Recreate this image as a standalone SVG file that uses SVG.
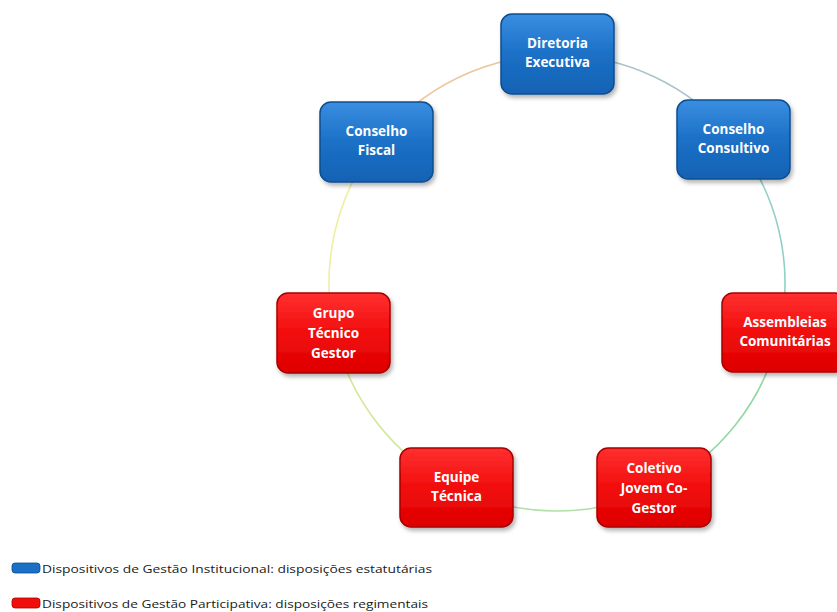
<svg xmlns="http://www.w3.org/2000/svg" width="837" height="612" viewBox="0 0 837 612">
<defs>
<linearGradient id="gb" x1="0" y1="0" x2="0" y2="1">
<stop offset="0" stop-color="#3a8ee0"/>
<stop offset="0.5" stop-color="#1b70c6"/>
<stop offset="1" stop-color="#1462b4"/>
</linearGradient>
<linearGradient id="gr" x1="0" y1="0" x2="0" y2="1">
<stop offset="0" stop-color="#ff3030"/>
<stop offset="0.5" stop-color="#f20d0d"/>
<stop offset="1" stop-color="#dd0000"/>
</linearGradient>
<filter id="sh" x="-20%" y="-20%" width="140%" height="150%">
<feDropShadow dx="2" dy="3" stdDeviation="2" flood-color="#000" flood-opacity="0.3"/>
</filter>
</defs>
<style>
.b{fill:url(#gb);stroke:#0c4d8f;stroke-width:1.5;filter:url(#sh)}
.r{fill:url(#gr);stroke:#a80000;stroke-width:1.5;filter:url(#sh)}
.t{font-family:"Open Sans","Liberation Sans",sans-serif;font-weight:bold;font-size:13.5px;fill:#fff;text-anchor:middle}
.lg{font-family:"Open Sans","Liberation Sans",sans-serif;font-size:11.5px;fill:#1a1a1a}
.c{fill:none;stroke-width:1.6}
</style>
<rect width="837" height="612" fill="#fff"/>
<g id="connectors">
<path class="c" stroke="#a9c4cc" d="M557,55 A228,228 0 0 1 733.5,138.6"/>
<path class="c" stroke="#8fd0c8" d="M733.5,138.6 A228,228 0 0 1 779.5,332.7"/>
<path class="c" stroke="#93d8a2" d="M779.5,332.7 A228,228 0 0 1 654.8,489"/>
<path class="c" stroke="#b0e0a8" d="M654.8,489 A228,228 0 0 1 456,487.4"/>
<path class="c" stroke="#d2e894" d="M456,487.4 A228,228 0 0 1 334.5,332.7"/>
<path class="c" stroke="#f0eea0" d="M334.5,332.7 A228,228 0 0 1 377.1,143"/>
<path class="c" stroke="#ecc8a0" d="M377.1,143 A228,228 0 0 1 557,55"/>
</g>
<g id="n-diretoria">
<rect class="b" x="501" y="14" width="113" height="80" rx="11"/>
<text class="t" x="557.5" y="48">Diretoria</text>
<text class="t" x="557.5" y="67">Executiva</text>
</g>
<g id="n-fiscal">
<rect class="b" x="320" y="102" width="113" height="80" rx="11"/>
<text class="t" x="376.5" y="136">Conselho</text>
<text class="t" x="376.5" y="155">Fiscal</text>
</g>
<g id="n-consultivo">
<rect class="b" x="677" y="100" width="113" height="79" rx="11"/>
<text class="t" x="733.5" y="134">Conselho</text>
<text class="t" x="733.5" y="153">Consultivo</text>
</g>
<g id="n-grupo">
<rect class="r" x="277" y="293" width="113" height="80" rx="11"/>
<text class="t" x="333.5" y="318">Grupo</text>
<text class="t" x="333.5" y="338">Técnico</text>
<text class="t" x="333.5" y="358">Gestor</text>
</g>
<g id="n-assembleias">
<rect class="r" x="722" y="293" width="124" height="79" rx="11"/>
<text class="t" x="785" y="327">Assembleias</text>
<text class="t" x="785" y="346">Comunitárias</text>
</g>
<g id="n-equipe">
<rect class="r" x="400" y="448" width="113" height="79" rx="11"/>
<text class="t" x="456.5" y="482">Equipe</text>
<text class="t" x="456.5" y="501">Técnica</text>
</g>
<g id="n-coletivo">
<rect class="r" x="597" y="448" width="114" height="79" rx="11"/>
<text class="t" x="654" y="473">Coletivo</text>
<text class="t" x="654" y="493">Jovem Co-</text>
<text class="t" x="654" y="513">Gestor</text>
</g>
<g id="legend">
<rect x="12" y="563" width="28" height="10" rx="3" fill="#1b70c6" stroke="#0c4d8f" stroke-width="0.8"/>
<text class="lg" x="42" y="573" textLength="390" lengthAdjust="spacingAndGlyphs">Dispositivos de Gestão Institucional: disposições estatutárias</text>
<rect x="12" y="598" width="28" height="10" rx="3" fill="#f20d0d" stroke="#a80000" stroke-width="0.8"/>
<text class="lg" x="42" y="608" textLength="386" lengthAdjust="spacingAndGlyphs">Dispositivos de Gestão Participativa: disposições regimentais</text>
</g>
</svg>
